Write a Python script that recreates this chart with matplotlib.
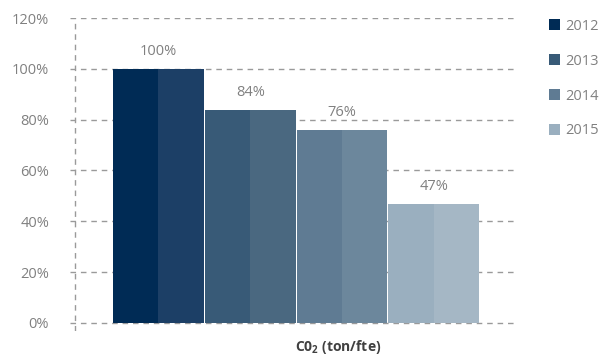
import matplotlib
matplotlib.use("Agg")
import matplotlib.pyplot as plt
from matplotlib.patches import Patch

years = ["2012", "2013", "2014", "2015"]
values = [1.00, 0.84, 0.76, 0.47]
labels = ["100%", "84%", "76%", "47%"]
yticks = [0.0, 0.2, 0.4, 0.6, 0.8, 1.0, 1.2]
ytick_labels = ["0%", "20%", "40%", "60%", "80%", "100%", "120%"]

# each bar is split into a base half and a slightly lighter half
base_colors = ["#002b55", "#385a77", "#5f7b93", "#9aafbf"]
light_colors = ["#1c3f66", "#4a6880", "#6c879c", "#a5b7c5"]

plt.rcParams["font.family"] = ["Open Sans", "DejaVu Sans"]
plt.rcParams["mathtext.fontset"] = "custom"
plt.rcParams["mathtext.bf"] = "Open Sans:bold"
plt.rcParams["mathtext.rm"] = "Open Sans"

GRAY = "#808080"
GRID = "#9a9a9a"

fig = plt.figure(figsize=(6.09, 3.58), dpi=100)
ax = fig.add_axes([70 / 609, 0.0765, (518 - 70) / 609, 0.9497 - 0.0765])

x = list(range(len(values)))
half = 0.495
ax.bar([i - half / 2 for i in x], values, width=half, color=base_colors, zorder=3)
ax.bar([i + half / 2 for i in x], values, width=half, color=light_colors, zorder=3)

for i, v, lab in zip(x, values, labels):
    ax.text(i, v + 0.068, lab, ha="center", va="center", fontsize=10.5, color=GRAY)

ax.set_xlim(-0.965, 3.92)
ax.set_ylim(-0.03, 1.2)

for y in yticks:
    ax.axhline(y, color=GRID, lw=1.0, ls=(0, (4, 3.5)), zorder=1)
ax.axvline(-0.91, color=GRID, lw=1.0, ls=(0, (4, 3.5)), zorder=1)

ax.set_yticks(yticks)
ax.set_yticklabels(ytick_labels, fontsize=10.5, color=GRAY)
ax.tick_params(axis="y", length=0, pad=15)
ax.set_xticks([])
for s in ax.spines.values():
    s.set_visible(False)

fig.text(338 / 609, 1 - 347 / 358, r"C0$_\mathbf{2}$ (ton/fte)", ha="center", va="center",
         fontsize=10, fontweight="bold", color="#404040")

handles = [Patch(facecolor=c, edgecolor="none") for c in base_colors]
fig.legend(handles, years, loc="upper left", bbox_to_anchor=(543 / 609, 1 - 13 / 358),
           frameon=False, fontsize=10.5, labelcolor=GRAY, handlelength=0.75,
           handleheight=0.75, handletextpad=0.4, labelspacing=1.36, borderaxespad=0)

fig.savefig("out.png", dpi=100, facecolor="white")
